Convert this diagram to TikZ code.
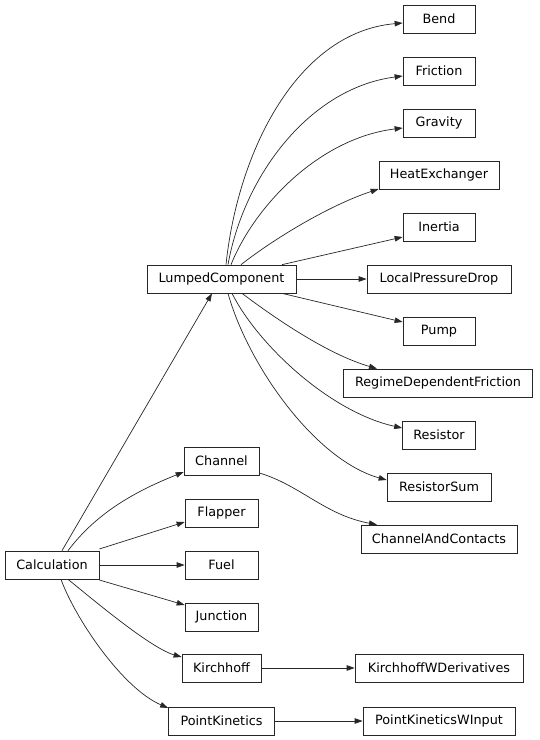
\documentclass[tikz,border=0pt]{standalone}
\usepackage{fontspec}
\setmainfont{DejaVu Sans}
\usetikzlibrary{arrows.meta}
\begin{document}
\begin{tikzpicture}[x=1pt,y=-1pt,
  cls/.style={draw=black!85, line width=0.7pt, minimum height=28pt, inner sep=0pt,
    font=\fontsize{12.8}{15}\selectfont, fill=white},
  edge/.style={draw=black!85, line width=0.7pt, -{Triangle[length=8pt,width=5.5pt]}}]
\useasboundingbox (0,0) rectangle (540,740);
% right column
\node[cls, minimum width=72pt]  (bend)  at (439,19)  {Bend};
\node[cls, minimum width=72pt]  (fric)  at (439,71)  {Friction};
\node[cls, minimum width=72pt]  (grav)  at (439,123) {Gravity};
\node[cls, minimum width=120pt] (heat)  at (439,175) {HeatExchanger};
\node[cls, minimum width=72pt]  (iner)  at (439,227) {Inertia};
\node[cls, minimum width=144pt] (lpd)   at (439,279) {LocalPressureDrop};
\node[cls, minimum width=72pt]  (pump)  at (439,331) {Pump};
\node[cls, minimum width=189pt] (rdf)   at (438,383) {RegimeDependentFriction};
\node[cls, minimum width=73pt]  (res)   at (439,435) {Resistor};
\node[cls, minimum width=104pt] (ressum) at (439,487) {ResistorSum};
\node[cls, minimum width=156pt] (cac)   at (439,539) {ChannelAndContacts};
\node[cls, minimum width=168pt] (kwd)   at (439,668) {KirchhoffWDerivatives};
\node[cls, minimum width=152pt] (pkwi)  at (439,721) {PointKineticsWInput};
% middle column
\node[cls, minimum width=149pt] (lc)    at (221.5,279) {LumpedComponent};
\node[cls, minimum width=75pt]  (chan)  at (221.5,461) {Channel};
\node[cls, minimum width=73pt]  (flap)  at (221.5,513) {Flapper};
\node[cls, minimum width=73pt]  (fuel)  at (221.5,565) {Fuel};
\node[cls, minimum width=73pt]  (junc)  at (221.5,617) {Junction};
\node[cls, minimum width=79pt]  (kirch) at (221.5,668) {Kirchhoff};
\node[cls, minimum width=106pt] (pk)    at (221.5,721) {PointKinetics};
% left
\node[cls, minimum width=94pt]  (calc)  at (52,565) {Calculation};

% Calculation edges
\draw[edge] (calc.north -| 62,0) -- (lc.south -| 212,0);
\draw[edge] (calc.north -| 68,0) .. controls (95,515) and (131,493) .. (chan.west |- 0,472);
\draw[edge] (calc.east |- 0,549) -- (flap.west |- 0,522);
\draw[edge] (calc) -- (fuel);
\draw[edge] (calc.east |- 0,580) -- (junc.west |- 0,605);
\draw[edge] (calc.south -| 68,0) .. controls (90,597) and (150,648) .. (kirch.west |- 0,657);
\draw[edge] (calc.south -| 61,0) .. controls (75,618) and (122,688) .. (pk.west |- 0,708);

% LumpedComponent edges
\draw[edge] (lc.north -| 226,0) .. controls (238,150) and (298,32) .. (bend.west |- 0,23);
\draw[edge] (lc.north -| 228,0) .. controls (244,175) and (310,88) .. (fric.west |- 0,76);
\draw[edge] (lc.north -| 231,0) .. controls (255,205) and (320,138) .. (grav.west |- 0,128);
\draw[edge] (lc.north -| 241,0) .. controls (275,238) and (330,205) .. (heat.west |- 0,189);
\draw[edge] (lc.north -| 282,0) -- (iner.west |- 0,237);
\draw[edge] (lc) -- (lpd);
\draw[edge] (lc.south -| 282,0) -- (pump.west |- 0,322);
\draw[edge] (lc.south -| 242,0) .. controls (280,322) and (330,355) .. (rdf.north -| 377,0);
\draw[edge] (lc.south -| 232,0) .. controls (258,345) and (330,412) .. (res.west |- 0,428);
\draw[edge] (lc.south -| 228,0) .. controls (248,365) and (315,460) .. (ressum.west |- 0,480);

% other edges
\draw[edge] (chan.east |- 0,473) .. controls (300,485) and (325,515) .. (cac.north -| 377,0);
\draw[edge] (kirch) -- (kwd);
\draw[edge] (pk) -- (pkwi);
\end{tikzpicture}
\end{document}
